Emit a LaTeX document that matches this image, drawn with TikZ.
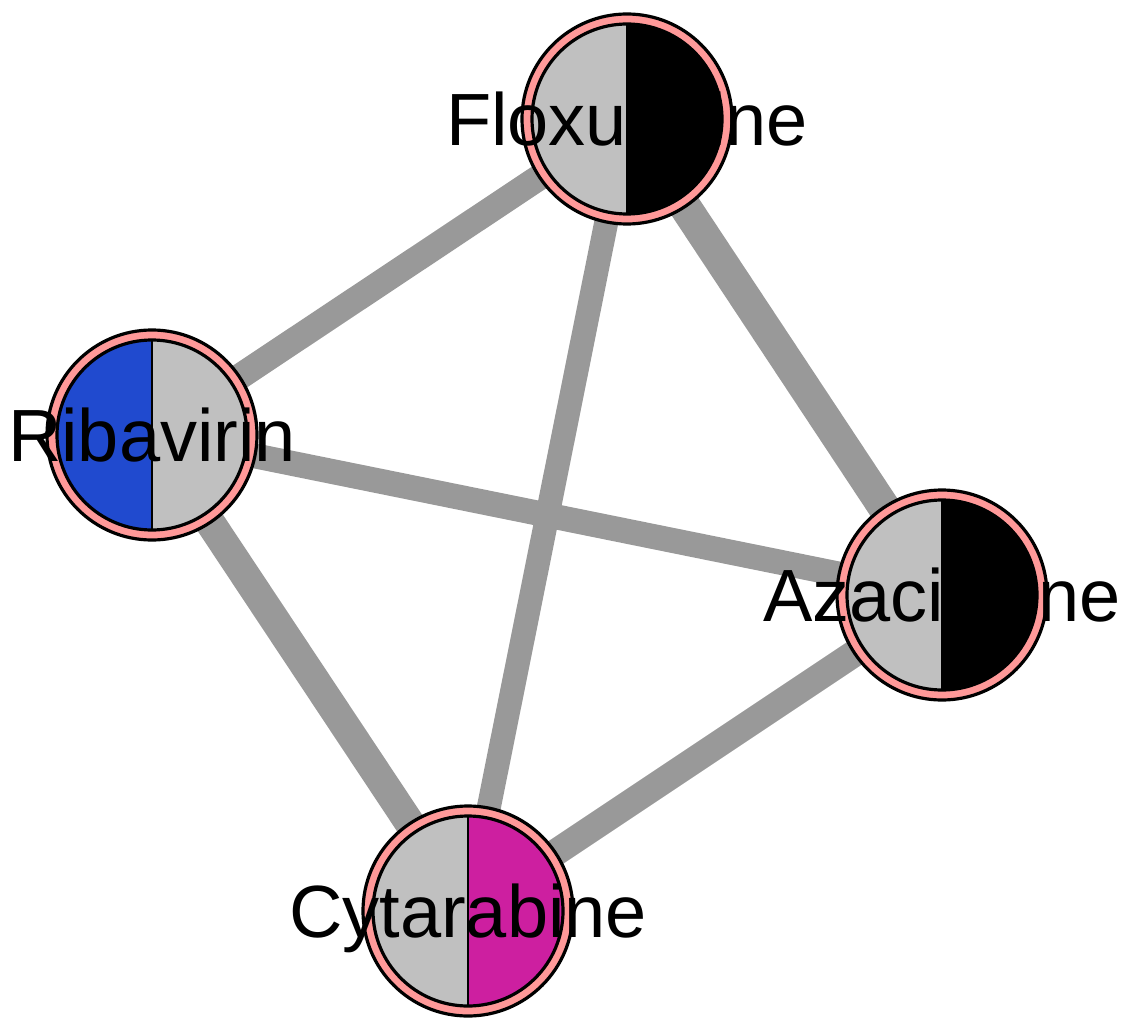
\documentclass[tikz,border=0pt]{standalone}
\usepackage{fontspec}
\setmainfont{Liberation Sans}
\usetikzlibrary{positioning}
\definecolor{ringpink}{HTML}{FF9999}
\definecolor{halfgray}{HTML}{C0C0C0}
\definecolor{linkgray}{HTML}{999999}
\definecolor{ribablue}{HTML}{204ACF}
\definecolor{cytamag}{HTML}{CD1FA0}
\tikzset{
  link/.style={draw=linkgray, line cap=butt},
  rim/.style={line width=3.2pt, draw=black},
  druglabel/.style={font=\fontsize{74}{80}\selectfont, text height=53pt, text depth=0pt, inner sep=0pt},
}

\begin{document}
\begin{tikzpicture}[x=1pt,y=-1pt]
    \useasboundingbox (0,0) rectangle (1127,1019);

    % drug positions
    \coordinate (flox) at (627,119);
    \coordinate (riba) at (152,435);
    \coordinate (azac) at (942,595);
    \coordinate (cyta) at (468,911);

    % links
    \draw[link, line width=26pt] (riba) -- (flox);
    \draw[link, line width=32pt] (flox) -- (azac);
    \draw[link, line width=24pt] (flox) -- (cyta);
    \draw[link, line width=25pt] (riba) -- (azac);
    \draw[link, line width=30pt] (riba) -- (cyta);
    \draw[link, line width=27pt] (azac) -- (cyta);

    % split disks
    \foreach \d/\lc/\rc in {flox/halfgray/black, riba/ribablue/halfgray, azac/halfgray/black, cyta/halfgray/cytamag} {
        \filldraw[fill=ringpink, rim] (\d) circle (105);
        \fill[\lc] (\d) ++(0,-95) arc (-90:-270:95) -- cycle;
        \fill[\rc] (\d) ++(0,-95) arc (-90:90:95) -- cycle;
        \draw[rim] (\d) circle (95);
        \draw[rim, line width=2.6pt] (\d) ++(0,-95) -- ++(0,190);
    }

    % labels
    \node[druglabel] (floxname) at (flox) {Floxuridine};
    \node[druglabel] (ribaname) at (riba) {Ribavirin};
    \node[druglabel] (azacname) at (azac) {Azacitidine};
    \node[druglabel] (cytaname) at (cyta) {Cytarabine};
\end{tikzpicture}
\end{document}
